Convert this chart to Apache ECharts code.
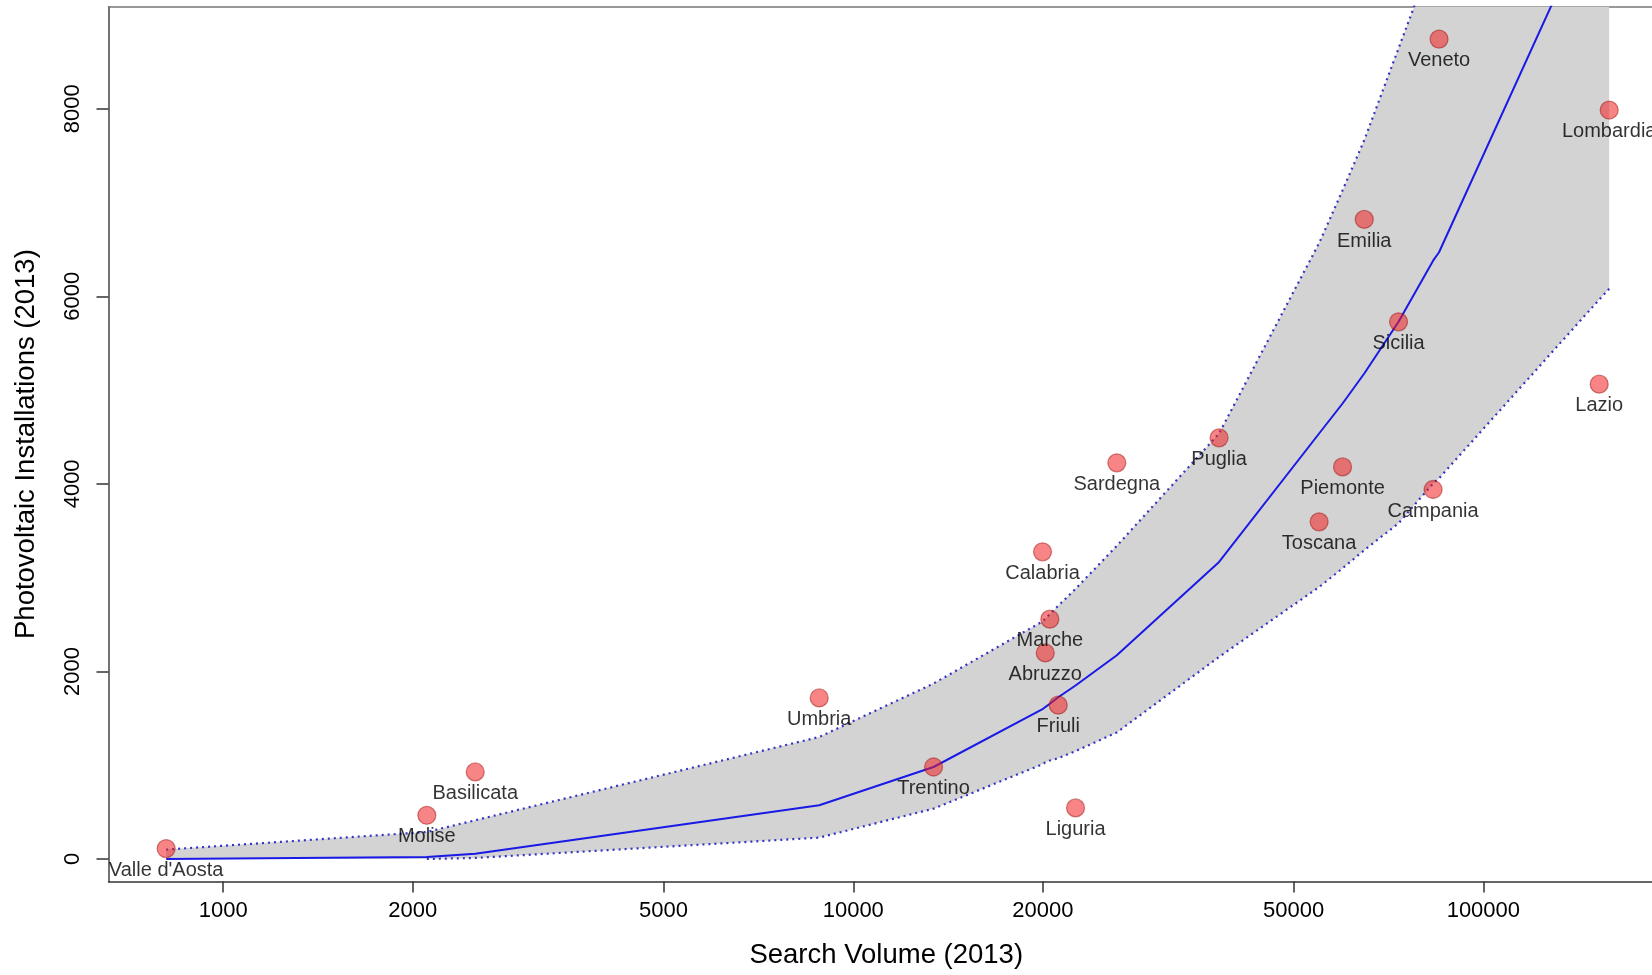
<!DOCTYPE html>
<html>
<head>
<meta charset="utf-8">
<script src="https://cdn.jsdelivr.net/npm/echarts@6/dist/echarts.min.js"></script>
<style>
html,body{margin:0;padding:0;background:#ffffff;}
#c{width:1652px;height:975px;}
</style>
</head>
<body>
<div id="c"></div>
<script>
// ---- data ----
const regions = ["Valle d'Aosta","Molise","Basilicata","Umbria","Trentino","Calabria","Abruzzo","Marche","Friuli","Liguria","Sardegna","Puglia","Toscana","Piemonte","Emilia","Sicilia","Campania","Veneto","Lazio","Lombardia"];
const searchVolume = [812, 2105, 2512, 8830, 13410, 19970, 20170, 20510, 21150, 22530, 26200, 38070, 54870, 59780, 64710, 73350, 83220, 85050, 152700, 158380];
const installations = [111, 466, 928, 1717, 981, 3275, 2197, 2557, 1640, 545, 4224, 4491, 3595, 4181, 6820, 5728, 3940, 8743, 5063, 7986];
// fitted curve and band evaluated at the (sorted) search volumes
const fitLine   = [0, 21, 57, 573, 981, 1597, 1620, 1655, 1725, 1850, 2173, 3168, 4537, 4857, 5177, 5728, 6380, 6470, 10220, 10530];
const upperBand = [100, 288, 413, 1301, 1871, 2533, 2560, 2610, 2700, 2880, 3339, 4537, 6567, 7130, 7665, 8644, 9630, 9800, 14360, 14640];
const lowerBand = [0, 0, 11, 228, 537, 1010, 1030, 1050, 1074, 1150, 1350, 2155, 2900, 3100, 3293, 3580, 4004, 4060, 5965, 6080];
const xTicks = [1000, 2000, 5000, 10000, 20000, 50000, 100000];
const yTicks = [0, 2000, 4000, 6000, 8000];

const FONT = '"Liberation Sans", Arial, sans-serif';
const chart = echarts.init(document.getElementById('c'), null, {renderer: 'canvas'});

const pts = searchVolume.map((x, i) => [x, installations[i], regions[i]]);
const pair = arr => searchVolume.map((x, i) => [x, arr[i]]);
const lowerDotted = searchVolume.slice(1).map((x, i) => [x, lowerBand[i + 1]]);
const bandData = searchVolume.map((x, i) => [x, lowerBand[i], upperBand[i]]);

function renderBand(params, api) {
  if (params.dataIndex !== 0) return null;
  const top = [], bottom = [];
  for (let i = 0; i < bandData.length; i++) {
    top.push(api.coord([bandData[i][0], bandData[i][2]]));
    bottom.push(api.coord([bandData[i][0], bandData[i][1]]));
  }
  const points = top.concat(bottom.reverse());
  const cs = params.coordSys;
  return {
    type: 'polygon',
    shape: {points: points},
    style: {fill: '#d3d3d3', stroke: null},
    clipPath: {type: 'rect', shape: {x: cs.x, y: cs.y, width: cs.width, height: cs.height}},
    silent: true
  };
}

const X_MIN = 657.7, X_MAX = 185200;
const option = {
  animation: false,
  backgroundColor: '#ffffff',
  grid: {left: 108.5, top: 6.7, right: 0, height: 874.8, show: false},
  xAxis: [{
    type: 'log', logBase: 10, min: X_MIN, max: X_MAX,
    name: 'Search Volume (2013)', nameLocation: 'middle', nameGap: 60,
    nameTextStyle: {fontFamily: FONT, fontSize: 27.5, color: '#000', padding: [0, 0, 0, 12]},
    axisLine: {show: true, onZero: false, lineStyle: {color: '#333', width: 1.5}},
    axisTick: {show: true, customValues: xTicks, length: 11, lineStyle: {color: '#333', width: 1.5}},
    axisLabel: {customValues: xTicks, margin: 18, fontFamily: FONT, fontSize: 22, color: '#000',
      formatter: v => String(Math.round(v))},
    minorTick: {show: false}, splitLine: {show: false}, minorSplitLine: {show: false}
  }, {
    type: 'log', logBase: 10, min: X_MIN, max: X_MAX, position: 'top',
    axisLine: {show: true, onZero: false, lineStyle: {color: '#777', width: 1.5}},
    axisTick: {show: false}, axisLabel: {show: false}, splitLine: {show: false}
  }],
  yAxis: {
    type: 'value', min: -240, max: 9088,
    name: 'Photovoltaic Installations (2013)', nameLocation: 'middle', nameGap: 68,
    nameTextStyle: {fontFamily: FONT, fontSize: 27.5, color: '#000'},
    axisLine: {show: true, onZero: false, lineStyle: {color: '#444', width: 1.5}},
    axisTick: {show: true, customValues: yTicks, length: 12, lineStyle: {color: '#333', width: 1.5}},
    axisLabel: {customValues: yTicks, rotate: 90, margin: 25, fontFamily: FONT, fontSize: 22, color: '#000',
      formatter: v => String(Math.round(v))},
    splitLine: {show: false}
  },
  series: [
    {type: 'custom', name: 'band', data: bandData, renderItem: renderBand, silent: true, z: 1,
      encode: {x: 0, y: [1, 2]}},
    {type: 'line', name: 'upper', data: pair(upperBand), symbol: 'none', silent: true,
      lineStyle: {color: '#3434c4', width: 2.2, type: [2, 4]}, z: 2},
    {type: 'line', name: 'lower', data: lowerDotted, symbol: 'none', silent: true,
      lineStyle: {color: '#3434c4', width: 2.2, type: [2, 4]}, z: 2},
    {type: 'line', name: 'fit', data: pair(fitLine), symbol: 'none', silent: true,
      lineStyle: {color: '#1a1ae6', width: 2}, z: 3},
    {type: 'scatter', name: 'regions', data: pts, symbol: 'circle', symbolSize: 18, z: 4,
      itemStyle: {color: 'rgba(240,30,30,0.68)', borderColor: 'rgba(150,0,0,0.55)', borderWidth: 1.3},
      label: {show: true, position: 'bottom', distance: 2, formatter: p => p.data[2],
        fontFamily: FONT, fontSize: 20, color: '#000'}}
  ]
};
chart.setOption(option);
</script>
</body>
</html>
